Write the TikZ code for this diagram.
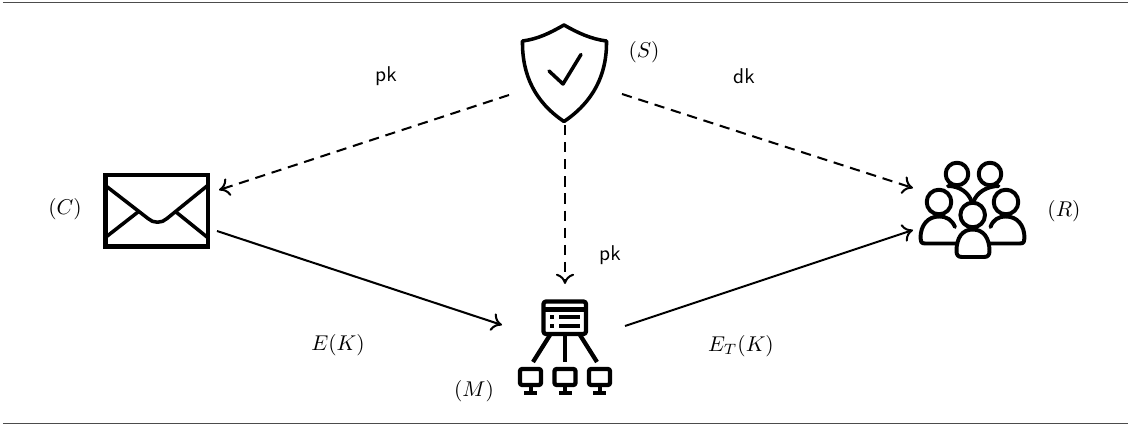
\documentclass[tikz,border=0pt]{standalone}
\usetikzlibrary{arrows.meta}
\begin{document}
\begin{tikzpicture}[x=0.4675pt,y=-0.4675pt,
  conn/.style={line width=0.95pt,-{To[length=4.8pt,width=8.5pt]}},
  dconn/.style={conn,dash pattern=on 4.8pt off 3.2pt},
  icon/.style={line width=1.85pt,line join=round,line cap=round},
  lab/.style={inner sep=0pt},
  rulebar/.style={line width=0.5pt,color=black!70}]
\useasboundingbox (0,0) rectangle (1131,426);
\coordinate (ruleTL) at (3,2.5); \coordinate (ruleTR) at (1128,2.5);
\coordinate (ruleBL) at (3,423.5); \coordinate (ruleBR) at (1128,423.5);
\draw[rulebar] (ruleTL) -- (ruleTR);
\draw[rulebar] (ruleBL) -- (ruleBR);
% shield
\draw[icon,line width=1.65pt] (564,25) .. controls (550,33) and (538,39) .. (522.5,41)
  .. controls (522,75) and (535,102) .. (564,121.5)
  .. controls (593,102) and (607,75) .. (606.5,41)
  .. controls (591,39) and (578,33) .. (564,25) -- cycle;
\draw[icon,line width=1.65pt] (549,71) -- (563,84) -- (581,54.5);
% envelope
\draw[line width=2.2pt,line join=miter] (105.5,175) rectangle (208,246.5);
\draw[icon,line width=1.65pt,line cap=butt] (106,186) -- (148,218.5) .. controls (153,223.5) and (162,223.5) .. (167,218.5) -- (207,186);
\draw[icon,line width=1.65pt,line cap=butt] (106,237) -- (138,212);
\draw[icon,line width=1.65pt,line cap=butt] (176,212) -- (207,237);
% server
\draw[icon,line width=2pt,rounded corners=1.2pt] (543.5,301.5) rectangle (586,334);
\fill (543.5,307) rectangle (586,312);
\fill (549.5,314.5) rectangle (554,319); \fill (559,314.5) rectangle (580,319);
\fill (549.5,323.5) rectangle (554,328); \fill (559,323.5) rectangle (580,328);
\draw[icon,line width=2pt,line cap=butt] (550,335) -- (533,362);
\draw[icon,line width=2pt,line cap=butt] (565,335) -- (565,362);
\draw[icon,line width=2pt,line cap=butt] (580,335) -- (597,362);
\foreach \mx in {530.5,565,599.5}{
  \draw[icon,line width=2pt,rounded corners=1pt] (\mx-10.5,369) rectangle (\mx+10.5,385);
  \fill (\mx-2,386) rectangle (\mx+2,392);
  \fill (\mx-6.5,390.5) rectangle (\mx+6.5,394.5);
}
% people
\draw[icon] (957,174) circle (11.3);
\draw[icon] (990,174) circle (11.3);
\draw[icon] (948,186) .. controls (960,186) and (969,193) .. (971.7,202);
\draw[icon] (998.5,186) .. controls (987,186) and (976,193) .. (973.5,202);
\draw[icon] (939,202) circle (12.3);
\draw[icon] (1006,202) circle (12.3);
\draw[icon] (956,243.5) -- (925,243.5) .. controls (921,243.5) and (920.5,241) .. (920.5,238)
  .. controls (920.5,225) and (928,216.5) .. (939,216.5) .. controls (947,216.5) and (952,220) .. (955,227);
\draw[icon] (990,243.5) -- (1020,243.5) .. controls (1024,243.5) and (1024.5,241) .. (1024.5,238)
  .. controls (1024.5,225) and (1017,216.5) .. (1006,216.5) .. controls (998,216.5) and (993,220) .. (990.5,227);
\draw[icon] (972.7,215) circle (12.3);
\draw[icon] (962,257) .. controls (958,257) and (956.5,255) .. (956.5,251)
  .. controls (956.5,238) and (962,229.5) .. (972.7,229.5)
  .. controls (983.5,229.5) and (989.5,238) .. (989.5,251)
  .. controls (989.5,255) and (988,257) .. (984,257) -- cycle;
% anchors
\coordinate (Sl) at (509,95); \coordinate (Sr) at (622,94); \coordinate (Sb) at (565,125);
\coordinate (Ct) at (219,190); \coordinate (Cb) at (217,231);
\coordinate (Mt) at (565,284); \coordinate (Ml) at (502,325); \coordinate (Mr) at (625,326);
\coordinate (Rt) at (913,188); \coordinate (Rb) at (913,230);
\draw[dconn] (Sl) -- (Ct);
\draw[dconn] (Sr) -- (Rt);
\draw[dconn] (Sb) -- (Mt);
\draw[conn] (Cb) -- (Ml);
\draw[conn] (Mr) -- (Rb);
% labels
\node[lab] (lpk1) at (386,76) {$\mathsf{pk}$};
\node[lab] (ldk) at (744,76) {$\mathsf{dk}$};
\node[lab] (lpk2) at (610,255.5) {$\mathsf{pk}$};
\node[lab] (lC) at (65,209) {$(C)$};
\node[lab] (lS) at (644,52) {$(S)$};
\node[lab] (lR) at (1064,211) {$(R)$};
\node[lab] (lM) at (474,391) {$(M)$};
\node[lab] (lE) at (338,345) {$E(K)$};
\node[lab] (lET) at (741,346) {$E_T(K)$};
\end{tikzpicture}
\end{document}
